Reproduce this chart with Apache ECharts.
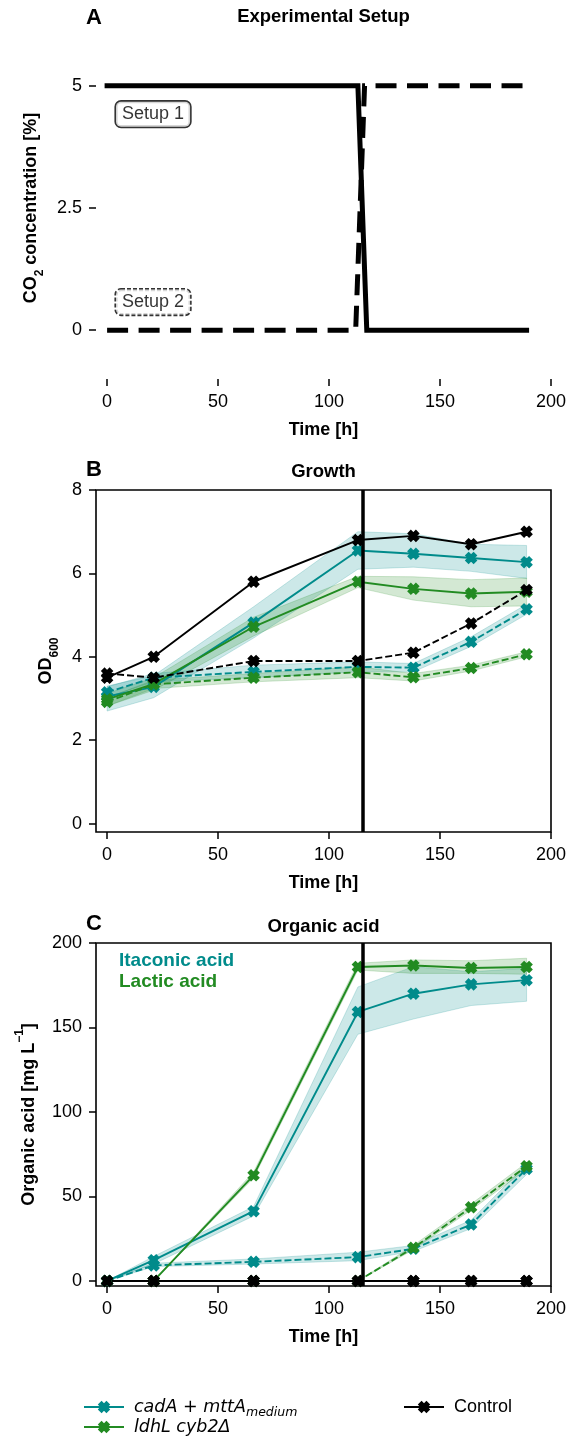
<!DOCTYPE html>
<html><head><meta charset="utf-8">
<script src="https://cdn.jsdelivr.net/npm/echarts@6/dist/echarts.min.js"></script>
<style>html,body{margin:0;padding:0;background:#fff}#c{width:568px;height:1445px}</style>
</head><body><div id="c"></div>
<script>
// ---------- data ----------
const time = [0, 21, 66, 113, 138, 164, 189];
const xTicks = [0, 50, 100, 150, 200];
const aTicks = [0, 2.5, 5];
const bTicks = [0, 2, 4, 6, 8];
const cTicks = [0, 50, 100, 150, 200];
const switchTime = 115;

// Panel A: CO2 setups
const setup1Time = [0, 113, 117, 189];
const setup1CO2 = [5, 5, 0, 0];
const setup2Time = [0, 112, 116, 189];
const setup2CO2 = [0, 0, 5, 5];
const setupLabelPos = [[20.7, 4.42], [20.7, 0.575]];

// Panel B: OD600
const odCadS1 = [3.05, 3.28, 4.82, 6.55, 6.47, 6.37, 6.27];
const odCadS1Lo = [2.70, 3.02, 4.45, 6.10, 6.15, 6.05, 5.88];
const odCadS1Hi = [3.30, 3.55, 5.20, 7.00, 6.95, 6.70, 6.67];
const odLdhS1 = [2.98, 3.35, 4.72, 5.80, 5.63, 5.52, 5.56];
const odLdhS1Lo = [2.82, 3.20, 4.50, 5.66, 5.36, 5.20, 5.22];
const odLdhS1Hi = [3.12, 3.50, 4.95, 5.93, 5.92, 5.85, 5.89];
const odCtlS1 = [3.50, 4.00, 5.80, 6.80, 6.90, 6.70, 7.00];
const odCadS2 = [3.15, 3.50, 3.64, 3.76, 3.74, 4.36, 5.14];
const odCadS2Lo = [3.03, 3.40, 3.50, 3.64, 3.64, 4.25, 5.02];
const odCadS2Hi = [3.28, 3.60, 3.80, 3.88, 3.84, 4.48, 5.26];
const odLdhS2 = [2.92, 3.34, 3.50, 3.63, 3.51, 3.73, 4.06];
const odLdhS2Lo = [2.82, 3.24, 3.40, 3.50, 3.42, 3.66, 4.00];
const odLdhS2Hi = [3.02, 3.44, 3.60, 3.76, 3.60, 3.80, 4.12];
const odCtlS2 = [3.60, 3.50, 3.90, 3.90, 4.10, 4.80, 5.60];

// Panel C: organic acid (mg/L)
const oaItaS1 = [0, 12.3, 41.3, 159.2, 170.0, 175.5, 178.0];
const oaItaS1Lo = [0, 10.0, 38.5, 146, 155, 163, 165.5];
const oaItaS1Hi = [0, 14.5, 44.0, 174, 186, 183, 185];
const oaLacS1 = [0, 0, 62.5, 185.8, 186.7, 185.2, 185.8];
const oaLacS1Lo = [0, 0, 61, 184, 182, 182, 181.5];
const oaLacS1Hi = [0, 0, 64.5, 188, 190, 189.5, 191];
const oaItaS2 = [0, 9.2, 11.3, 14.1, 19.0, 33.4, 66.3];
const oaItaS2Lo = [0, 8.5, 10, 12, 17.5, 31, 63];
const oaItaS2Hi = [0, 10.5, 13, 17, 21, 36, 69];
const oaLacS2 = [0, 0, 0, 0, 19.6, 43.6, 67.9];
const oaLacS2Lo = [0, 0, 0, 0, 18.5, 42, 66];
const oaLacS2Hi = [0, 0, 0, 0, 21, 45.5, 70];
const oaCtlS1 = [0, 0, 0, 0, 0, 0, 0];
const oaCtlS2 = [0, 0, 0, 0, 0, 0, 0];

// ---------- styling ----------
const FONT = '"Liberation Sans", Arial, Helvetica, sans-serif';
const TEAL = '#008b8b', GREEN = '#228b22', BLACK = '#000000';
const TEAL_BAND = 'rgba(0,139,139,0.2)', GREEN_BAND = 'rgba(34,139,34,0.2)';
const XMARK = 'path://M1 0L2 1L3 0L4 1L3 2L4 3L3 4L2 3L1 4L0 3L1 2L0 1Z';

function pairs(xs, ys) { return xs.map((x, i) => [x, ys[i]]); }

function dataLine(name, gi, ys, color, dashed, extra) {
  return Object.assign({
    type: 'line', name: name, xAxisIndex: gi, yAxisIndex: gi,
    data: pairs(time, ys), symbol: XMARK, symbolSize: 10, showSymbol: true,
    itemStyle: { color: color, borderColor: color, borderWidth: 1.8 },
    lineStyle: { color: color, width: 1.9, type: dashed ? [7, 3] : 'solid' },
    z: 3, silent: true, emphasis: { disabled: true }, animation: false
  }, extra || {});
}
function band(gi, lo, hi, fill) {
  return {
    type: 'custom', name: 'band', xAxisIndex: gi, yAxisIndex: gi, silent: true, z: 1,
    data: [[time[0], lo[0]]], animation: false,
    renderItem: function (params, api) {
      const pts = [];
      for (let i = 0; i < time.length; i++) pts.push(api.coord([time[i], hi[i]]));
      for (let i = time.length - 1; i >= 0; i--) pts.push(api.coord([time[i], lo[i]]));
      return { type: 'polygon', shape: { points: pts }, style: { fill: fill, stroke: fill, lineWidth: 1 } };
    }
  };
}
function xAx(gi) {
  return {
    type: 'value', gridIndex: gi, min: -5, max: 200,
    axisLine: { show: false, onZero: false }, splitLine: { show: false },
    axisTick: { show: true, customValues: xTicks, length: 7, lineStyle: { color: BLACK, width: 1.5 } },
    axisLabel: { customValues: xTicks, margin: 14, color: BLACK, fontSize: 18, fontFamily: FONT },
    name: 'Time [h]', nameLocation: 'middle', nameGap: 42,
    nameTextStyle: { color: BLACK, fontSize: 18, fontWeight: 'bold', fontFamily: FONT }
  };
}
const nameRich = {
  m: { fontSize: 18, fontWeight: 'bold', fontFamily: FONT, color: BLACK, lineHeight: 30, verticalAlign: 'middle' },
  s: { fontSize: 12, fontWeight: 'bold', fontFamily: FONT, color: BLACK, lineHeight: 16, verticalAlign: 'bottom' },
  p: { fontSize: 12, fontWeight: 'bold', fontFamily: FONT, color: BLACK, lineHeight: 16, verticalAlign: 'top' }
};
function yAx(gi, min, max, ticks, name, gap) {
  return {
    type: 'value', gridIndex: gi, min: min, max: max,
    axisLine: { show: false, onZero: false }, splitLine: { show: false },
    axisTick: { show: true, customValues: ticks, length: 7, lineStyle: { color: BLACK, width: 1.5 } },
    axisLabel: { customValues: ticks, margin: 14, color: BLACK, fontSize: 18, fontFamily: FONT },
    name: name, nameLocation: 'middle', nameGap: gap,
    nameTextStyle: { rich: nameRich }
  };
}

const gridBox = { show: true, borderColor: BLACK, borderWidth: 1.6, backgroundColor: 'transparent' };
const vline = {
  symbol: 'none', silent: true, label: { show: false },
  lineStyle: { color: BLACK, width: 3.5, type: 'solid' },
  emphasis: { disabled: true }, animation: false,
  data: [{ xAxis: switchTime }]
};

const legendRich = {
  it: { fontFamily: '"DejaVu Sans", sans-serif', fontStyle: 'italic', fontSize: 17.5, color: BLACK, lineHeight: 24, verticalAlign: 'middle' },
  sub: { fontFamily: '"DejaVu Sans", sans-serif', fontStyle: 'italic', fontSize: 12.5, color: BLACK, lineHeight: 12, verticalAlign: 'bottom' },
  n: { fontFamily: FONT, fontSize: 18, color: BLACK, lineHeight: 24, verticalAlign: 'middle' }
};
function legendFmt(name) {
  if (name === 'cadA') return '{it|cadA + mttA}{sub|medium}';
  if (name === 'ldhL') return '{it|ldhL cyb2Δ}';
  return '{n|' + name + '}';
}
function legendAt(left, top, name) {
  return { left: left, top: top, orient: 'horizontal', itemWidth: 40, itemHeight: 12,
    data: [name], formatter: legendFmt, selectedMode: false,
    textStyle: { padding: [0, 0, 0, 5], rich: legendRich } };
}

const TITLE_FONT = 'bold 18.5px ' + FONT;
const option = {
  animation: false,
  backgroundColor: '#ffffff',
  textStyle: { fontFamily: FONT },
  grid: [
    { left: 96, width: 455, top: 37, height: 342, show: false, outerBoundsMode: 'none' },
    Object.assign({ left: 96, width: 455, top: 490, height: 342, outerBoundsMode: 'none' }, gridBox),
    Object.assign({ left: 96, width: 455, top: 943, height: 343, outerBoundsMode: 'none' }, gridBox)
  ],
  xAxis: [xAx(0), xAx(1), xAx(2)],
  yAxis: [
    yAx(0, -1, 6, aTicks, '{m|CO}{s|2}{m| concentration [%]}', 49),
    yAx(1, -0.2, 8, bTicks, '{m|OD}{s|600}', 35),
    yAx(2, -3, 200, cTicks, '{m|Organic acid [mg L}{p|−1}{m|]}', 52)
  ],
  legend: [
    legendAt(78, 1393, 'cadA'),
    legendAt(78, 1413, 'ldhL'),
    legendAt(398, 1393, 'Control')
  ],
  graphic: [
    { type: 'text', x: 323.5, y: 17, style: { text: 'Experimental Setup', font: TITLE_FONT, fill: BLACK, align: 'center', verticalAlign: 'middle' } },
    { type: 'text', x: 323.5, y: 472, style: { text: 'Growth', font: TITLE_FONT, fill: BLACK, align: 'center', verticalAlign: 'middle' } },
    { type: 'text', x: 323.5, y: 927, style: { text: 'Organic acid', font: TITLE_FONT, fill: BLACK, align: 'center', verticalAlign: 'middle' } },
    { type: 'text', x: 86, y: 18, style: { text: 'A', font: 'bold 22px ' + FONT, fill: BLACK, align: 'left', verticalAlign: 'middle' } },
    { type: 'text', x: 86, y: 470, style: { text: 'B', font: 'bold 22px ' + FONT, fill: BLACK, align: 'left', verticalAlign: 'middle' } },
    { type: 'text', x: 86, y: 924, style: { text: 'C', font: 'bold 22px ' + FONT, fill: BLACK, align: 'left', verticalAlign: 'middle' } },
    { type: 'text', x: 119, y: 961, style: { text: 'Itaconic acid', font: 'bold 19px ' + FONT, fill: TEAL, align: 'left', verticalAlign: 'middle' } },
    { type: 'text', x: 119, y: 982, style: { text: 'Lactic acid', font: 'bold 19px ' + FONT, fill: GREEN, align: 'left', verticalAlign: 'middle' } }
  ],
  series: [
    // ---- Panel A ----
    { type: 'line', name: 'Setup 1', xAxisIndex: 0, yAxisIndex: 0, data: pairs(setup1Time, setup1CO2),
      symbol: 'none', silent: true, lineStyle: { color: BLACK, width: 5, type: 'solid', cap: 'square', join: 'miter' }, z: 3 },
    { type: 'line', name: 'Setup 2', xAxisIndex: 0, yAxisIndex: 0, data: pairs(setup2Time, setup2CO2),
      symbol: 'none', silent: true, lineStyle: { color: BLACK, width: 5, type: [21, 10.5], cap: 'butt', join: 'miter' }, z: 3 },
    { type: 'scatter', name: 'lab1', xAxisIndex: 0, yAxisIndex: 0, data: [setupLabelPos[0]], symbolSize: 0.1,
      itemStyle: { color: 'transparent' }, silent: true, z: 5,
      label: { show: true, position: 'inside', formatter: 'Setup 1', fontSize: 18, fontFamily: FONT, color: BLACK,
        backgroundColor: '#ffffff', borderColor: BLACK, borderWidth: 1.6, borderRadius: 5, padding: [4, 6, 3, 6] } },
    { type: 'scatter', name: 'lab2', xAxisIndex: 0, yAxisIndex: 0, data: [setupLabelPos[1]], symbolSize: 0.1,
      itemStyle: { color: 'transparent' }, silent: true, z: 5,
      label: { show: true, position: 'inside', formatter: 'Setup 2', fontSize: 18, fontFamily: FONT, color: BLACK,
        backgroundColor: '#ffffff', borderColor: BLACK, borderWidth: 1.6, borderRadius: 5, borderType: [4, 2], padding: [4, 6, 3, 6] } },

    // ---- Panel B ----
    band(1, odCadS1Lo, odCadS1Hi, TEAL_BAND),
    band(1, odLdhS1Lo, odLdhS1Hi, GREEN_BAND),
    band(1, odCadS2Lo, odCadS2Hi, TEAL_BAND),
    band(1, odLdhS2Lo, odLdhS2Hi, GREEN_BAND),
    dataLine('cadA', 1, odCadS1, TEAL, false),
    dataLine('cadA', 1, odCadS2, TEAL, true),
    dataLine('ldhL', 1, odLdhS1, GREEN, false),
    dataLine('ldhL', 1, odLdhS2, GREEN, true),
    dataLine('Control', 1, odCtlS1, BLACK, false),
    dataLine('Control', 1, odCtlS2, BLACK, true, { markLine: vline }),

    // ---- Panel C ----
    band(2, oaItaS1Lo, oaItaS1Hi, TEAL_BAND),
    band(2, oaLacS1Lo, oaLacS1Hi, GREEN_BAND),
    band(2, oaItaS2Lo, oaItaS2Hi, TEAL_BAND),
    band(2, oaLacS2Lo, oaLacS2Hi, GREEN_BAND),
    dataLine('cadA', 2, oaItaS1, TEAL, false),
    dataLine('cadA', 2, oaItaS2, TEAL, true),
    dataLine('ldhL', 2, oaLacS1, GREEN, false),
    dataLine('ldhL', 2, oaLacS2, GREEN, true),
    dataLine('Control', 2, oaCtlS1, BLACK, false),
    dataLine('Control', 2, oaCtlS2, BLACK, true, { markLine: vline })
  ]
};

const chart = echarts.init(document.getElementById('c'), null, { renderer: 'canvas' });
chart.setOption(option);
</script>
</body></html>
